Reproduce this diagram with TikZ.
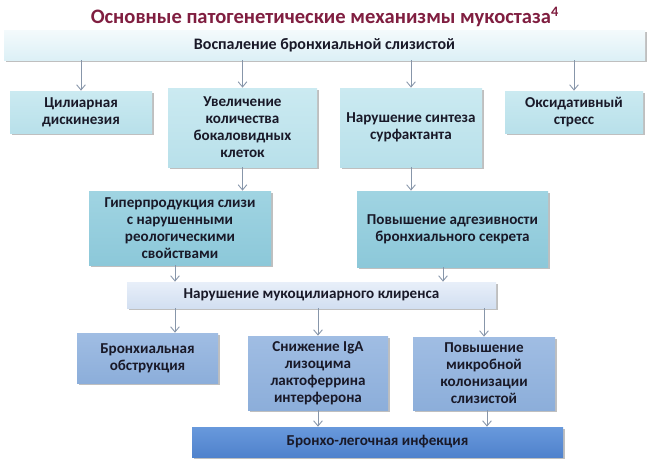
\documentclass[tikz,border=0pt]{standalone}
\usepackage{fontspec}
\setmainfont{Carlito}
\usepackage{xcolor}
\usetikzlibrary{arrows.meta, shadows}
\definecolor{titlered}{RGB}{128, 30, 64}
\definecolor{txt}{RGB}{25, 25, 40}
\definecolor{arr}{RGB}{135, 150, 170}
\definecolor{paleA}{RGB}{244, 250, 252}
\definecolor{paleB}{RGB}{220, 240, 246}
\definecolor{cyanA}{RGB}{203, 234, 241}
\definecolor{cyanB}{RGB}{184, 224, 234}
\definecolor{tealA}{RGB}{160, 212, 226}
\definecolor{tealB}{RGB}{140, 200, 217}
\definecolor{lavA}{RGB}{232, 239, 249}
\definecolor{lavB}{RGB}{210, 223, 241}
\definecolor{blueA}{RGB}{160, 189, 227}
\definecolor{blueB}{RGB}{140, 174, 218}
\definecolor{deepA}{RGB}{104, 153, 220}
\definecolor{deepB}{RGB}{80, 130, 204}

\begin{document}
\begin{tikzpicture}[
    x=0.02cm, y=-0.02cm,
    stagebox/.style n args={4}{
        top color=#1,
        bottom color=#2,
        draw=none,
        minimum width=#3*0.02cm,
        minimum height=#4*0.02cm,
        inner sep=1pt,
        align=center,
        text=txt,
        font=\bfseries\fontsize{8.6}{9.7}\selectfont,
        drop shadow={shadow xshift=1.2pt, shadow yshift=-1.2pt, fill=black!45, opacity=0.55}
    },
    link/.style={-{Straight Barb[length=3pt, width=5pt]}, arr, line width=0.5pt},
    heading/.style={font=\bfseries\fontsize{11.7}{13}\selectfont, text=titlered}
]
\useasboundingbox[fill=white] (0,0) rectangle (650,460);

% === Title ===
\node[heading] (title) at (325,17) {Основные патогенетические механизмы мукостаза$^{\mathbf{4}}$};

% === Level 0: inflammation ===
\node[stagebox={paleA}{paleB}{641}{30}, font=\bfseries\fontsize{9.1}{10}\selectfont] (inflam) at (324.5,45) {Воспаление бронхиальной слизистой};

% === Level 1 ===
\node[stagebox={cyanA}{cyanB}{142}{42}] (cilia) at (81,112) {Цилиарная\\дискинезия};
\node[stagebox={cyanA}{cyanB}{149}{79}] (goblet) at (242.5,127.5) {Увеличение\\количества\\бокаловидных\\клеток};
\node[stagebox={cyanA}{cyanB}{142}{79}] (surf) at (411,127.5) {Нарушение синтеза\\сурфактанта};
\node[stagebox={cyanA}{cyanB}{138}{42}] (oxid) at (574,112) {Оксидативный\\стресс};

% === Level 2 ===
\node[stagebox={tealA}{tealB}{182}{74}] (hyper) at (180,228) {Гиперпродукция слизи\\с нарушенными\\реологическими\\свойствами};
\node[stagebox={tealA}{tealB}{191}{76}] (adhes) at (452.5,229) {Повышение адгезивности\\бронхиального секрета};

% === Level 3: clearance ===
\node[stagebox={lavA}{lavB}{369}{26}] (clear) at (311.5,295) {Нарушение мукоцилиарного клиренса};

% === Level 4 ===
\node[stagebox={blueA}{blueB}{141}{50}] (obstr) at (147.5,358) {Бронхиальная\\обструкция};
\node[stagebox={blueA}{blueB}{140}{74}] (iga) at (318,373) {Снижение IgA\\лизоцима\\лактоферрина\\интерферона};
\node[stagebox={blueA}{blueB}{142}{73}] (micro) at (484,373.5) {Повышение\\микробной\\колонизации\\слизистой};

% === Level 5: infection ===
\node[stagebox={deepA}{deepB}{371}{30}] (infect) at (377.5,442) {Бронхо-легочная инфекция};

% === Arrows ===
\draw[link] (cilia.north |- inflam.south) -- (cilia.north);
\draw[link] (goblet.north |- inflam.south) -- (goblet.north);
\draw[link] (surf.north |- inflam.south) -- (surf.north);
\draw[link] (oxid.north |- inflam.south) -- (oxid.north);
\draw[link] (goblet.south) -- (goblet.south |- hyper.north);
\draw[link] (surf.south) -- (surf.south |- adhes.north);
\draw[link] ([xshift=-0.1cm]hyper.south) -- ([xshift=-0.1cm]hyper.south |- clear.north);
\draw[link] ([xshift=-0.19cm]adhes.south) -- ([xshift=-0.19cm]adhes.south |- clear.north);
\draw[link] ([xshift=0.55cm]obstr.north |- clear.south) -- ([xshift=0.55cm]obstr.north);
\draw[link] (iga.north |- clear.south) -- (iga.north);
\draw[link] (micro.north |- clear.south) -- (micro.north);
\draw[link] (iga.south) -- (iga.south |- infect.north);
\draw[link] ([xshift=0.06cm]micro.south) -- ([xshift=0.06cm]micro.south |- infect.north);

\end{tikzpicture}
\end{document}
